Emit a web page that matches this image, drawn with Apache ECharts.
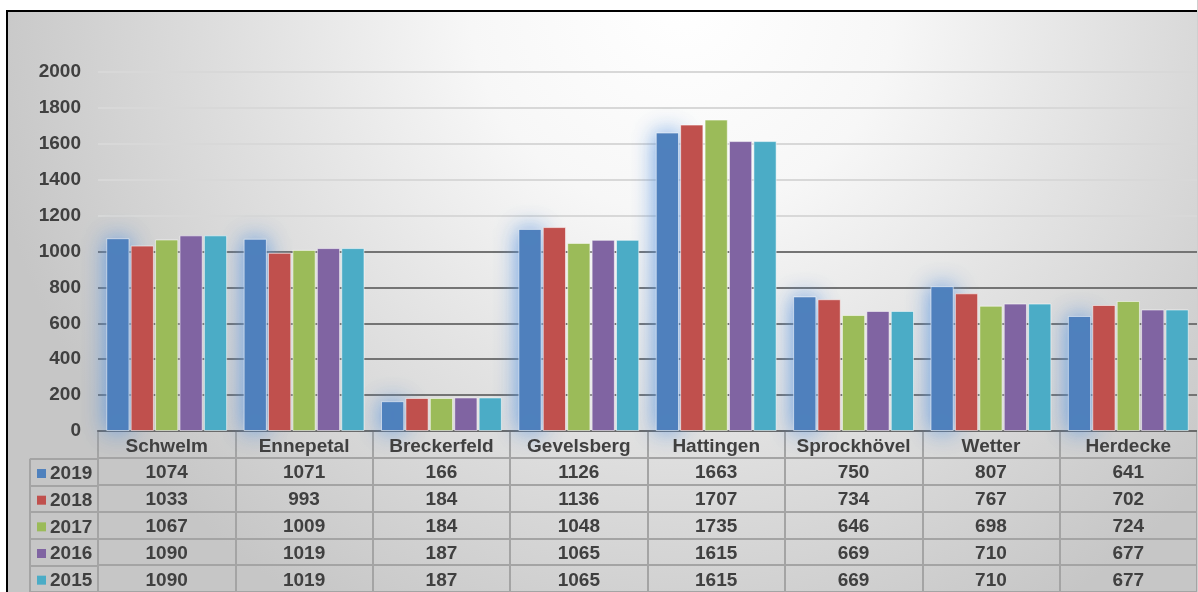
<!DOCTYPE html>
<html>
<head>
<meta charset="utf-8">
<script src="https://cdn.jsdelivr.net/npm/echarts@6/dist/echarts.min.js"></script>
<style>
html,body{margin:0;padding:0;background:#cfcfcf;overflow:hidden;}
#chart{width:1197px;height:592px;}
</style>
</head>
<body>
<div id="chart"></div>
<script>
const categories = ['Schwelm','Ennepetal','Breckerfeld','Gevelsberg','Hattingen','Sprockhövel','Wetter','Herdecke'];
const years = ['2019','2018','2017','2016','2015'];
const v2019 = [1074,1071,166,1126,1663,750,807,641];
const v2018 = [1033,993,184,1136,1707,734,767,702];
const v2017 = [1067,1009,184,1048,1735,646,698,724];
const v2016 = [1090,1019,187,1065,1615,669,710,677];
const v2015 = [1090,1019,187,1065,1615,669,710,677];
const yMin = 0, yMax = 2000, yStep = 200;
const colors = ['#4f81bd','#c0504d','#9bbb59','#8064a2','#4bacc6'];

const seriesValues = [v2019, v2018, v2017, v2016, v2015];
const FONT = 'bold 19px "Liberation Sans", Arial, sans-serif';
const TXT = '#404040';
const tableRows = [''].concat(years);

// table cell data: [categoryIndex, rowIndex]
const tableData = [];
for (let r = 0; r < tableRows.length; r++) {
  for (let c = 0; c < categories.length; c++) tableData.push([c, r]);
}
const legendData = years.map((y, i) => [0, i]);

const gridLineColors = [];
for (let v = yMin; v <= yMax; v += yStep) gridLineColors.push(v <= 1000 ? '#747474' : '#d8d8d8');

const chart = echarts.init(document.getElementById('chart'), null, {renderer: 'canvas'});

const barSeries = years.map((y, i) => ({
  name: y,
  type: 'bar',
  xAxisIndex: 0,
  yAxisIndex: 0,
  data: seriesValues[i],
  barGap: '5%',
  barCategoryGap: '12%',
  itemStyle: Object.assign({
    color: colors[i],
    borderColor: 'rgba(255,255,255,0.55)',
    borderWidth: 1
  }, i === 0 ? {shadowBlur: 22, shadowColor: 'rgba(90,150,225,0.95)', shadowOffsetX: 0, shadowOffsetY: 0} : {}),
  emphasis: {disabled: true},
  z: 2
}));

const option = {
  animation: false,
  backgroundColor: {
    type: 'radial', x: 0.57, y: 0.0, r: 1.2,
    colorStops: [
      {offset: 0, color: '#ffffff'},
      {offset: 0.3, color: '#f7f7f7'},
      {offset: 0.65, color: '#dedede'},
      {offset: 1, color: '#c6c6c6'}
    ]
  },
  textStyle: {fontFamily: '"Liberation Sans", Arial, sans-serif'},
  grid: [
    {left: 98, right: -3, top: 72, height: 359, containLabel: false},
    {left: 98, right: -3, top: 431, height: 166.2, containLabel: false},
    {left: 30, width: 68, top: 458.7, height: 138.5, containLabel: false}
  ],
  xAxis: [
    {
      type: 'category', gridIndex: 0, data: categories,
      axisLine: {show: true, lineStyle: {color: '#6a6a6a', width: 2}},
      axisTick: {show: false},
      axisLabel: {show: false},
      splitLine: {show: false}
    },
    {
      type: 'category', gridIndex: 1, data: categories,
      axisLine: {show: false}, axisTick: {show: false}, axisLabel: {show: false},
      splitLine: {show: true, lineStyle: {color: '#a4a4a4', width: 2}}
    },
    {
      type: 'category', gridIndex: 2, data: ['legend'],
      axisLine: {show: false}, axisTick: {show: false}, axisLabel: {show: false},
      splitLine: {show: true, lineStyle: {color: '#a4a4a4', width: 2}}
    }
  ],
  yAxis: [
    {
      type: 'value', gridIndex: 0, min: yMin, max: yMax, interval: yStep,
      axisLine: {show: false}, axisTick: {show: false},
      axisLabel: {margin: 17, color: TXT, fontSize: 19, fontWeight: 'bold', fontFamily: '"Liberation Sans", Arial, sans-serif',
                  formatter: function (v) { return String(v); }},
      splitLine: {show: true, lineStyle: {color: gridLineColors, width: 2}}
    },
    {
      type: 'category', gridIndex: 1, data: tableRows, inverse: true,
      axisLine: {show: true, lineStyle: {color: '#a4a4a4', width: 2}},
      axisTick: {show: false}, axisLabel: {show: false},
      splitLine: {show: true, lineStyle: {color: '#a4a4a4', width: 2}}
    },
    {
      type: 'category', gridIndex: 2, data: years, inverse: true,
      axisLine: {show: false}, axisTick: {show: false}, axisLabel: {show: false},
      splitLine: {show: true, lineStyle: {color: '#a4a4a4', width: 2}}
    }
  ],
  series: barSeries.concat([
    {
      type: 'custom', name: 'table', xAxisIndex: 1, yAxisIndex: 1,
      data: tableData, silent: true, z: 5,
      renderItem: function (params, api) {
        const c = api.value(0), r = api.value(1);
        const p = api.coord([c, r]);
        const text = r === 0 ? categories[c] : String(seriesValues[r - 1][c]);
        return {
          type: 'text',
          style: {x: p[0], y: p[1] + 2, text: text, font: FONT, fill: TXT,
                  align: 'center', verticalAlign: 'middle', textAlign: 'center', textVerticalAlign: 'middle'}
        };
      }
    },
    {
      type: 'custom', name: 'legendcol', xAxisIndex: 2, yAxisIndex: 2,
      data: legendData, silent: true, z: 5,
      renderItem: function (params, api) {
        const r = api.value(1);
        const p = api.coord([0, r]);
        const w = api.size([1, 0])[0];
        const left = p[0] - w / 2;
        return {
          type: 'group',
          children: [
            {type: 'rect', shape: {x: left + 7, y: p[1] - 3, width: 9, height: 9}, style: {fill: colors[r]}},
            {type: 'text', style: {x: left + 20, y: p[1] + 2, text: years[r], font: FONT, fill: TXT,
              align: 'left', verticalAlign: 'middle', textAlign: 'left', textVerticalAlign: 'middle'}}
          ]
        };
      }
    }
  ]),
  graphic: [
    {type: 'rect', shape: {x: 0, y: 0, width: 1198, height: 10}, style: {fill: '#ffffff'}, silent: true},
    {type: 'rect', shape: {x: 0, y: 0, width: 6, height: 592}, style: {fill: '#ffffff'}, silent: true},
    {type: 'rect', shape: {x: 6, y: 10, width: 1192, height: 2}, style: {fill: '#000000'}, silent: true},
    {type: 'rect', shape: {x: 6, y: 10, width: 2, height: 582}, style: {fill: '#000000'}, silent: true}
  ]
};
chart.setOption(option);
</script>
</body>
</html>
